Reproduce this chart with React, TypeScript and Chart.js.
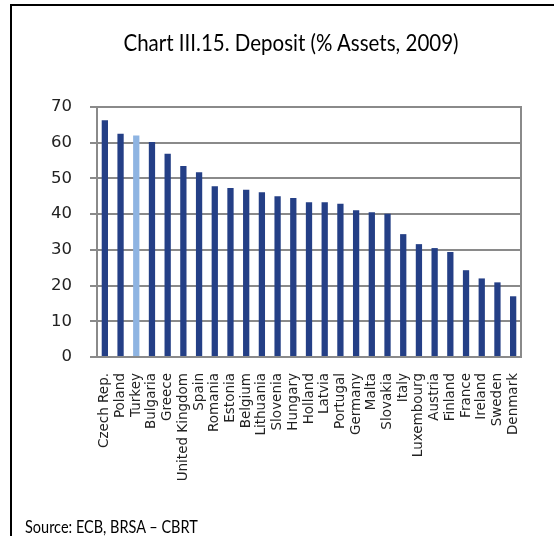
import React, { useEffect, useRef } from "react";
import { Chart, registerables } from "chart.js";

Chart.register(...registerables);

const categories: string[] = [
  "Czech Rep.", "Poland", "Turkey", "Bulgaria", "Greece", "United Kingdom", "Spain",
  "Romania", "Estonia", "Belgium", "Lithuania", "Slovenia", "Hungary", "Holland",
  "Latvia", "Portugal", "Germany", "Malta", "Slovakia", "Italy", "Luxembourg",
  "Austria", "Finland", "France", "Ireland", "Sweden", "Denmark",
];
const depositShare: number[] = [
  66.3, 62.5, 62.0, 60.2, 56.9, 53.5, 51.7,
  47.8, 47.3, 46.8, 46.1, 45.0, 44.5, 43.3,
  43.3, 42.9, 41.1, 40.5, 40.1, 34.4, 31.6,
  30.5, 29.4, 24.3, 22.0, 20.9, 17.0,
];
const highlighted: string[] = ["Turkey"];
const yTicks: number[] = [0, 10, 20, 30, 40, 50, 60, 70];

const TITLE = "Chart III.15. Deposit (% Assets, 2009)";
const SOURCE = "Source: ECB, BRSA \u2013 CBRT";

const DARK = "#243f86";
const LIGHT = "#8eb4e2";
const GRID = "#8a8a8a";
const FONT = "Lato, 'DejaVu Sans', sans-serif";
const TICK_FONT = "'DejaVu Sans', sans-serif";

export default function App() {
  const canvasRef = useRef<HTMLCanvasElement | null>(null);

  useEffect(() => {
    const canvas = canvasRef.current;
    if (!canvas) return;
    const rightBorder = {
      id: "rightBorder",
      afterDatasetsDraw(chart: any) {
        const { ctx, chartArea } = chart;
        ctx.save();
        ctx.strokeStyle = GRID;
        ctx.lineWidth = 2;
        ctx.beginPath();
        ctx.moveTo(chartArea.right, chartArea.top - 1);
        ctx.lineTo(chartArea.right, chartArea.bottom + 1);
        ctx.stroke();
        ctx.restore();
      },
    };
    const chart = new Chart(canvas, {
      type: "bar",
      data: {
        labels: categories,
        datasets: [
          {
            data: depositShare,
            backgroundColor: categories.map((c) => (highlighted.includes(c) ? LIGHT : DARK)),
            barPercentage: 0.4,
            categoryPercentage: 1,
          },
        ],
      },
      options: {
        responsive: false,
        animation: false,
        devicePixelRatio: 1,
        layout: { padding: { left: 0, right: 33, top: 107, bottom: 0 } },
        plugins: {
          legend: { display: false },
          tooltip: { enabled: false },
          title: { display: false },
        },
        scales: {
          x: {
            grid: { display: false, drawTicks: false },
            border: { display: true, color: GRID, width: 2 },
            ticks: {
              autoSkip: false,
              maxRotation: 90,
              minRotation: 90,
              padding: 16,
              color: "#222",
              font: { family: TICK_FONT, size: 13.5 },
            },
            afterFit(scale: any) {
              scale.height = 179;
            },
          },
          y: {
            min: 0,
            max: 70,
            afterBuildTicks(scale: any) {
              scale.ticks = yTicks.map((v) => ({ value: v }));
            },
            grid: { color: GRID, lineWidth: 2, tickLength: 7, drawTicks: true },
            border: { display: true, color: GRID, width: 2 },
            ticks: {
              padding: 18,
              color: "#222",
              font: { family: TICK_FONT, size: 16.5 },
            },
            afterFit(scale: any) {
              scale.width = 97;
            },
          },
        },
      },
      plugins: [rightBorder],
    });
    return () => chart.destroy();
  }, []);

  return (
    <div
      style={{
        position: "absolute",
        left: 0,
        top: 0,
        width: 554,
        height: 536,
        background: "#fff",
        overflow: "hidden",
      }}
    >
      <canvas
        ref={canvasRef}
        width={554}
        height={536}
        style={{ position: "absolute", left: 0, top: 0, width: 554, height: 536 }}
      />
      <div style={{ position: "absolute", left: 10, top: 4, width: 544, height: 2, background: "#000" }} />
      <div style={{ position: "absolute", left: 10, top: 4, width: 2, height: 532, background: "#000" }} />
      <div
        style={{
          position: "absolute",
          left: 0,
          width: 582,
          top: 30,
          textAlign: "center",
          fontFamily: FONT,
          fontSize: 20.5,
          color: "#000",
          whiteSpace: "nowrap",
          transform: "scaleY(1.15)",
          transformOrigin: "50% 50%",
        }}
      >
        {TITLE}
      </div>
      <div
        style={{
          position: "absolute",
          left: 25,
          top: 518,
          fontFamily: FONT,
          fontSize: 14.5,
          color: "#000",
          whiteSpace: "nowrap",
          transform: "scaleY(1.15)",
          transformOrigin: "0% 50%",
        }}
      >
        {SOURCE}
      </div>
    </div>
  );
}
